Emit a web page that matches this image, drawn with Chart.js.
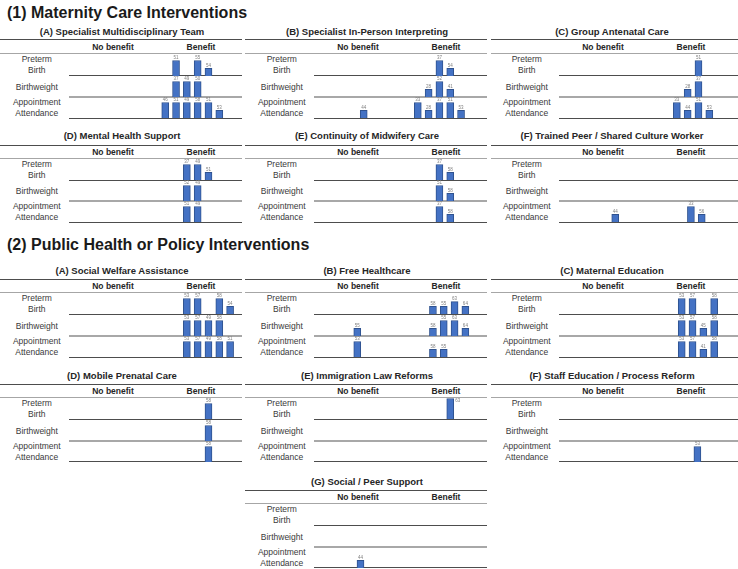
<!DOCTYPE html>
<html>
<head>
<meta charset="utf-8">
<script src="https://cdn.jsdelivr.net/npm/chart.js@4.4.0/dist/chart.umd.min.js"></script>
<style>
  html, body { margin:0; padding:0; background:#fff; }
  #root { position:relative; width:738px; height:569px; overflow:hidden; font-family:"Liberation Sans", Arial, sans-serif; color:#222; }
  .t { position:absolute; white-space:nowrap; }
  .sec { font-weight:bold; font-size:16px; line-height:16px; color:#1a1a1a; }
  .ptitle { font-weight:bold; font-size:9.5px; line-height:11px; transform:translateX(-50%); color:#262626; }
  .hdr { font-weight:bold; font-size:8.5px; line-height:10px; transform:translateX(-50%); color:#262626; }
  .rlab { font-size:8.5px; line-height:10.8px; text-align:center; transform:translate(-50%,-50%); color:#3a3a3a; }
  .ln { position:absolute; z-index:5; }
  canvas { position:absolute; z-index:6; }
</style>
</head>
<body>
<div id="root"></div>
<script>
// ---------- text ----------
const sectionTitles = ["(1) Maternity Care Interventions", "(2) Public Health or Policy Interventions"];
const panelTitles = [
  "(A) Specialist Multidisciplinary Team", "(B) Specialist In-Person Interpreting", "(C) Group Antenatal Care",
  "(D) Mental Health Support", "(E) Continuity of Midwifery Care", "(F) Trained Peer / Shared Culture Worker",
  "(A) Social Welfare Assistance", "(B) Free Healthcare", "(C) Maternal Education",
  "(D) Mobile Prenatal Care", "(E) Immigration Law Reforms", "(F) Staff Education / Process Reform",
  "(G) Social / Peer Support"
];
const columnHeaders = ["No benefit", "Benefit"];
const outcomeLabels = [["Preterm", "Birth"], ["Birthweight"], ["Appointment", "Attendance"]];

// ---------- data: per panel, per outcome row (column slot, bar height, study id) ----------
const teamSlot   = [[10,12,13],[10,11,12],[9,10,11,12,13,14]];
const teamHeight = [[2,2,1],[2,2,2],[2,2,2,2,2,1]];
const teamStudy  = [["51","55","54"],["37","49","50"],["46","51","49","58","51","53"]];

const interpSlot   = [[12,13],[11,12,13],[5,10,11,12,13,14]];
const interpHeight = [[2,1],[1,2,1],[1,2,1,2,2,1]];
const interpStudy  = [["37","54"],["28","52","41"],["44","33","28","37","51","53"]];

const groupSlot   = [[13],[12,13],[11,12,13,14]];
const groupHeight = [[2],[1,2],[2,1,2,1]];
const groupStudy  = [["51"],["28","37"],["33","44","51","53"]];

const mentalSlot   = [[11,12,13],[11,12],[11,12]];
const mentalHeight = [[2,2,1],[2,2],[2,2]];
const mentalStudy  = [["37","49","51"],["52","49"],["51","49"]];

const midwifeSlot   = [[12,13],[12,13],[12,13]];
const midwifeHeight = [[2,1],[2,1],[2,1]];
const midwifeStudy  = [["37","58"],["51","58"],["37","58"]];

const peerSlot   = [[],[],[5,12,13]];
const peerHeight = [[],[],[1,2,1]];
const peerStudy  = [[],[],["44","33","56"]];

const welfareSlot   = [[11,12,14,15],[11,12,13,14],[11,12,13,14,15]];
const welfareHeight = [[2,2,2,1],[2,2,2,2],[2,2,2,2,2]];
const welfareStudy  = [["53","57","58","54"],["53","57","49","58"],["53","57","49","58","51"]];

const freeSlot   = [[11,12,13,14],[4,11,12,13,14],[4,11,12]];
const freeHeight = [[1,1,1.6,1],[1,1,2,2,1],[2,1,1]];
const freeStudy  = [["58","55","63","64"],["55","58","55","63","64"],["53","58","55"]];

const eduSlot   = [[11,12,14],[11,12,13,14],[11,12,13,14]];
const eduHeight = [[2,2,2],[2,2,1,2],[2,2,1,2]];
const eduStudy  = [["53","57","58"],["53","57","45","58"],["53","57","41","58"]];

const mobileSlot   = [[13],[13],[13]];
const mobileHeight = [[2],[2],[2]];
const mobileStudy  = [["58"],["58"],["58"]];

const lawSlot   = [[13],[],[]];
const lawHeight = [[2.65],[],[]];
const lawStudy  = [["63"],[],[]];

const staffSlot   = [[],[],[13]];
const staffHeight = [[],[],[2]];
const staffStudy  = [[],[],["53"]];

const socialSlot   = [[],[],[4]];
const socialHeight = [[],[],[1]];
const socialStudy  = [[],[],["44"]];

const panelSlots   = [teamSlot, interpSlot, groupSlot, mentalSlot, midwifeSlot, peerSlot, welfareSlot, freeSlot, eduSlot, mobileSlot, lawSlot, staffSlot, socialSlot];
const panelHeights = [teamHeight, interpHeight, groupHeight, mentalHeight, midwifeHeight, peerHeight, welfareHeight, freeHeight, eduHeight, mobileHeight, lawHeight, staffHeight, socialHeight];
const panelStudies = [teamStudy, interpStudy, groupStudy, mentalStudy, midwifeStudy, peerStudy, welfareStudy, freeStudy, eduStudy, mobileStudy, lawStudy, staffStudy, socialStudy];

// ---------- layout ----------
const panelCol  = [0,1,2, 0,1,2, 0,1,2, 0,1,2, 1];
const panelRow  = [0,0,0, 1,1,1, 2,2,2, 3,3,3, 4];
const panelXMin = [0.1,0.4,0.1, 0.1,0.4,-0.2, 0.1,0,-0.35, 0.1,0.4,0.2, -0.3];
const colLeft = [0, 245, 490];
const secY = [13.3, 245];
const prTitle = [31, 135, 270, 375, 481];
const prTop = [39.5, 145.5, 279.3, 384.3, 490.3];
const prHdr = [46.7, 151.7, 285.7, 390.7, 496.7];
const prHdrLine = [53.3, 158.3, 292.7, 397.7, 503.7];
const prRows = [[75.5,96.5,118],[180,201,222.3],[314.3,336,357.3],[419.3,441,461.7],[525.3,547,567.7]];
const PX_PER_UNIT = 7.75;
const PAD = 8;

const root = document.getElementById('root');
function addText(cls, txt, x, y) {
  const d = document.createElement('div');
  d.className = 't ' + cls;
  d.innerHTML = txt;
  d.style.left = x + 'px';
  d.style.top = y + 'px';
  root.appendChild(d);
  return d;
}
function addLine(x1, x2, y, w, color) {
  const d = document.createElement('div');
  d.className = 'ln';
  d.style.left = x1 + 'px';
  d.style.width = (x2 - x1) + 'px';
  d.style.top = (y - w / 2) + 'px';
  d.style.height = w + 'px';
  d.style.background = color;
  root.appendChild(d);
}

addText('sec', sectionTitles[0], 7, secY[0] - 8);
addText('sec', sectionTitles[1], 7, secY[1] - 8);

const studyLabels = {
  id: 'studyLabels',
  afterDatasetsDraw(chart, args, opts) {
    const ctx = chart.ctx;
    const meta = chart.getDatasetMeta(0);
    const ids = chart.data.datasets[0].studyIds || [];
    ctx.save();
    ctx.font = '4.5px "Liberation Sans", Arial, sans-serif';
    ctx.fillStyle = '#808080';
    meta.data.forEach((bar, i) => {
      if (bar.y - 5 < opts.pad) {
        ctx.textAlign = 'left'; ctx.textBaseline = 'top';
        ctx.fillText(ids[i], bar.x + 5, bar.y);
      } else {
        ctx.textAlign = 'center'; ctx.textBaseline = 'bottom';
        ctx.fillText(ids[i], bar.x, bar.y - 0.5);
      }
    });
    ctx.restore();
  }
};

panelTitles.forEach((title, p) => {
  const L = colLeft[panelCol[p]];
  const r = panelRow[p];
  const right = panelCol[p] === 2 ? 738 : L + 242;
  addText('ptitle', title, L + 122, prTitle[r] - 5.5);
  addLine(L + (panelCol[p] === 2 ? 1 : 0), right, prTop[r], 1, '#4d4d4d');
  addText('hdr', columnHeaders[0], L + 113, prHdr[r] - 5);
  addText('hdr', columnHeaders[1], L + 201, prHdr[r] - 5);
  addLine(L + (panelCol[p] === 2 ? 1 : 0), right, prHdrLine[r], 1.5, '#a6a6a6');

  for (let k = 0; k < 3; k++) {
    const topLine = k === 0 ? prHdrLine[r] : prRows[r][k - 1];
    const botLine = prRows[r][k];
    addText('rlab', outcomeLabels[k].join('<br>'), L + 36.8, (topLine + botLine) / 2 + 0.7);
    if (k === 1) addLine(L + 69, right, botLine, 2, '#a8a8a8');
    else addLine(L + 69, right, botLine, 1, '#4d4d4d');

    const cTop = Math.round(topLine - PAD);
    const cH = Math.round(botLine) - cTop;
    const cv = document.createElement('canvas');
    cv.width = 173; cv.height = cH;
    cv.style.left = (L + 69) + 'px';
    cv.style.top = cTop + 'px';
    cv.style.width = '173px';
    cv.style.height = cH + 'px';
    root.appendChild(cv);

    const slots = panelSlots[p][k], hts = panelHeights[p][k], ids = panelStudies[p][k];
    new Chart(cv, {
      type: 'bar',
      data: {
        datasets: [{
          data: slots.map((s, i) => ({ x: s, y: hts[i] })),
          studyIds: ids,
          backgroundColor: '#4472C4',
          borderColor: '#2F528F',
          borderWidth: 1,
          barThickness: 7
        }]
      },
      options: {
        responsive: false,
        animation: false,
        events: [],
        layout: { padding: 0 },
        plugins: { legend: { display: false }, tooltip: { enabled: false }, studyLabels: { pad: topLine - cTop } },
        scales: {
          x: { type: 'linear', offset: false, min: panelXMin[p], max: panelXMin[p] + 16, display: false },
          y: { min: 0, max: cH / PX_PER_UNIT, display: false }
        }
      },
      plugins: [studyLabels]
    });
  }
});
</script>
</body>
</html>
